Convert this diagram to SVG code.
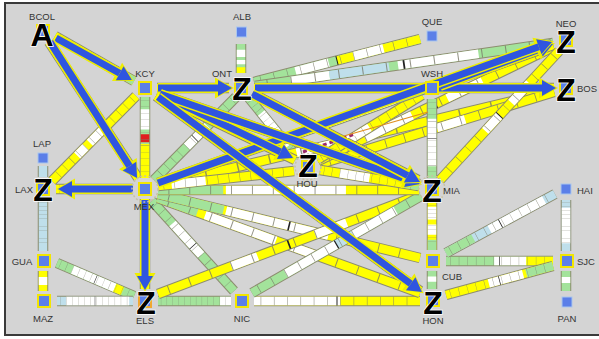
<svg xmlns="http://www.w3.org/2000/svg" xmlns:xlink="http://www.w3.org/1999/xlink" width="599" height="339" viewBox="0 0 599 339">
<style>
.o{stroke:#8c8c6e;stroke-width:10.5;fill:none}
.Y{stroke:#ffff00;stroke-width:8.5}
.G{stroke:#a3e39b;stroke-width:8.5}
.W{stroke:#ffffff;stroke-width:8.5}
.L{stroke:#bfdfeb;stroke-width:8.5}
.R{stroke:#e02020;stroke-width:8.5}
.t{stroke:#7a7a6a;stroke-width:8.5;stroke-dasharray:0.35 7.65;stroke-dashoffset:-4;opacity:.8}
.m{stroke:#222;stroke-width:9;stroke-dasharray:0 49.7 0.6 100}
.ay{stroke:#eeee00;stroke-width:10;marker-end:url(#hy)}
.ab{stroke:#2f55e0;stroke-width:7;marker-end:url(#hb)}
.ns{fill:#5b7fe8;stroke:#f2e600;stroke-width:2}
.nl{fill:#5b7fe8;stroke:#a9c6ee;stroke-width:1}
.lb{font-family:"Liberation Sans",Arial,sans-serif;font-size:9.5px;fill:#333}
.c{text-anchor:middle}
.big{font-family:"Liberation Sans",Arial,sans-serif;font-weight:bold;font-size:32px;fill:#000;stroke:#fff;stroke-width:1.5;paint-order:stroke;text-anchor:middle}
.ring{fill:none;stroke:#c9c2a2;stroke-width:1.5;stroke-dasharray:2 2}
</style>
<defs>
<marker id="hb" markerUnits="userSpaceOnUse" markerWidth="20" markerHeight="20" refX="2" refY="10" orient="auto" overflow="visible"><path d="M2,2 L16,10 L2,18 z" fill="#2f55e0"/></marker>
<marker id="hy" markerUnits="userSpaceOnUse" markerWidth="24" markerHeight="24" refX="3" refY="12" orient="auto" overflow="visible"><path d="M0,1.5 L19,12 L0,22.5 z" fill="#eeee00"/></marker>
<line id="b1" x1="55" y1="36" x2="134" y2="81" pathLength="100"/>
<line id="b2" x1="49" y1="42" x2="138" y2="178" pathLength="100"/>
<line id="b3" x1="136" y1="96" x2="52" y2="181" pathLength="100"/>
<line id="b4" x1="145" y1="97" x2="145" y2="178" pathLength="100"/>
<line id="b5" x1="157" y1="88" x2="229" y2="88" pathLength="100"/>
<line id="b6" x1="157" y1="94" x2="295" y2="160" pathLength="100"/>
<line id="b7" x1="157" y1="93" x2="419" y2="184" pathLength="100"/>
<line id="b8" x1="156" y1="96" x2="420" y2="291" pathLength="100"/>
<line id="b9" x1="241" y1="44" x2="241" y2="73" pathLength="100"/>
<line id="b10" x1="254" y1="82" x2="420" y2="39" pathLength="100"/>
<line id="b11" x1="255" y1="86" x2="553" y2="43" pathLength="100"/>
<line id="b12" x1="254" y1="88" x2="554" y2="88" pathLength="100"/>
<line id="b13" x1="236" y1="97" x2="154" y2="180" pathLength="100"/>
<line id="b14" x1="249" y1="98" x2="298" y2="158" pathLength="100"/>
<line id="b15" x1="253" y1="94" x2="418" y2="180" pathLength="100"/>
<line id="b16" x1="444" y1="84" x2="553" y2="45" pathLength="100"/>
<line id="b17" x1="432" y1="99" x2="432" y2="178" pathLength="100"/>
<line id="b18" x1="559" y1="51" x2="440" y2="180" pathLength="100"/>
<line id="b19" x1="318" y1="161" x2="553" y2="47" pathLength="100"/>
<line id="b20" x1="158" y1="186" x2="554" y2="91" pathLength="100"/>
<line id="b21" x1="320" y1="164" x2="554" y2="92" pathLength="100"/>
<line id="b22" x1="317" y1="160" x2="422" y2="95" pathLength="100"/>
<line id="b23" x1="158" y1="183" x2="552" y2="44" pathLength="100"/>
<line id="b24" x1="43" y1="166" x2="43" y2="177" pathLength="100"/>
<line id="b25" x1="56" y1="189" x2="133" y2="189" pathLength="100"/>
<line id="b26" x1="43" y1="200" x2="43" y2="251" pathLength="100"/>
<line id="b27" x1="43" y1="271" x2="43" y2="291" pathLength="100"/>
<line id="b28" x1="57" y1="263" x2="134" y2="296" pathLength="100"/>
<line id="b29" x1="57" y1="301" x2="133" y2="301" pathLength="100"/>
<line id="b30" x1="145" y1="199" x2="145" y2="289" pathLength="100"/>
<line id="b31" x1="158" y1="301" x2="231" y2="301" pathLength="100"/>
<line id="b32" x1="254" y1="301" x2="420" y2="301" pathLength="100"/>
<line id="b33" x1="152" y1="201" x2="234" y2="291" pathLength="100"/>
<line id="b34" x1="158" y1="198" x2="420" y2="293" pathLength="100"/>
<line id="b35" x1="158" y1="194" x2="420" y2="258" pathLength="100"/>
<line id="b36" x1="158" y1="190" x2="419" y2="190" pathLength="100"/>
<line id="b37" x1="158" y1="186" x2="294" y2="171" pathLength="100"/>
<line id="b38" x1="158" y1="294" x2="420" y2="195" pathLength="100"/>
<line id="b39" x1="252" y1="293" x2="421" y2="196" pathLength="100"/>
<line id="b40" x1="320" y1="170" x2="419" y2="186" pathLength="100"/>
<line id="b41" x1="432" y1="199" x2="432" y2="250" pathLength="100"/>
<line id="b42" x1="432" y1="271" x2="432" y2="289" pathLength="100"/>
<line id="b43" x1="446" y1="261" x2="553" y2="261" pathLength="100"/>
<line id="b44" x1="446" y1="253" x2="555" y2="194" pathLength="100"/>
<line id="b45" x1="446" y1="295" x2="553" y2="266" pathLength="100"/>
<line id="b46" x1="566" y1="200" x2="566" y2="251" pathLength="100"/>
<line id="b47" x1="566" y1="271" x2="566" y2="291" pathLength="100"/>
</defs>
<rect x="0" y="0" width="599" height="339" fill="#ffffff"/>
<rect x="5" y="3" width="597" height="332" fill="#d4d4d4" stroke="#3a3a3a" stroke-width="2"/>
<g id="connectors">
<g id="bars">
<g><use href="#b2" class="o"/><use href="#b2" class="Y"/><use href="#b2" class="t"/></g>
<g><use href="#b1" class="o"/><use href="#b1" class="Y"/><use href="#b1" class="G" stroke-dasharray="0 88 12 100"/><use href="#b1" class="t"/></g>
<g><use href="#b3" class="o"/><use href="#b3" class="Y"/><use href="#b3" class="W" stroke-dasharray="0 35 20 100"/><use href="#b3" class="W" stroke-dasharray="0 60 10 100"/><use href="#b3" class="t"/></g>
<g><use href="#b4" class="o"/><use href="#b4" class="G"/><use href="#b4" class="W" stroke-dasharray="0 15 25 100"/><use href="#b4" class="R" stroke-dasharray="0 46 10 100"/><use href="#b4" class="Y" stroke-dasharray="0 58 42 100"/><use href="#b4" class="t"/></g>
<g><use href="#b5" class="o"/><use href="#b5" class="Y"/></g>
<g><use href="#b9" class="o"/><use href="#b9" class="G"/><use href="#b9" class="W" stroke-dasharray="0 20 25 100"/><use href="#b9" class="W" stroke-dasharray="0 55 15 100"/><use href="#b9" class="Y" stroke-dasharray="0 80 20 100"/></g>
<g><use href="#b10" class="o"/><use href="#b10" class="G"/><use href="#b10" class="W" stroke-dasharray="0 25 20 100"/><use href="#b10" class="Y" stroke-dasharray="0 50 50 100"/><use href="#b10" class="W" stroke-dasharray="0 60 18 100"/><use href="#b10" class="t"/><use href="#b10" class="m"/></g>
<g><use href="#b11" class="o"/><use href="#b11" class="G"/><use href="#b11" class="W" stroke-dasharray="0 12 13 100"/><use href="#b11" class="L" stroke-dasharray="0 25 20 100"/><use href="#b11" class="W" stroke-dasharray="0 48 27 100"/><use href="#b11" class="t"/><use href="#b11" class="m"/></g>
<g><use href="#b12" class="o"/><use href="#b12" class="Y"/><use href="#b12" class="t"/></g>
<g><use href="#b13" class="o"/><use href="#b13" class="G"/><use href="#b13" class="W" stroke-dasharray="0 35 25 100"/><use href="#b13" class="t"/><use href="#b13" class="m"/></g>
<g><use href="#b14" class="o"/><use href="#b14" class="G"/><use href="#b14" class="W" stroke-dasharray="0 25 55 100"/><use href="#b14" class="t"/></g>
<g><use href="#b20" class="o"/><use href="#b20" class="Y"/><use href="#b20" class="W" stroke-dasharray="0 35 20 100"/><use href="#b20" class="t"/><use href="#b20" class="m"/></g>
<g><use href="#b21" class="o"/><use href="#b21" class="Y"/><use href="#b21" class="W" stroke-dasharray="0 50 12 100"/><use href="#b21" class="t"/></g>
<g><use href="#b19" class="o"/><use href="#b19" class="Y"/><use href="#b19" class="W" stroke-dasharray="0 20 20 100"/><use href="#b19" class="W" stroke-dasharray="0 55 15 100"/><use href="#b19" class="t"/><use href="#b19" class="m"/></g>
<g><use href="#b22" class="o"/><use href="#b22" class="Y"/><use href="#b22" class="W" stroke-dasharray="0 30 20 100"/><use href="#b22" class="t"/></g>
<g><use href="#b15" class="o"/><use href="#b15" class="Y"/><use href="#b15" class="W" stroke-dasharray="0 20 25 100"/><use href="#b15" class="W" stroke-dasharray="0 60 15 100"/><use href="#b15" class="t"/></g>
<g><use href="#b23" class="o"/><use href="#b23" class="G"/><use href="#b23" class="W" stroke-dasharray="0 30 30 100"/><use href="#b23" class="t"/></g>
<g><use href="#b16" class="o"/><use href="#b16" class="Y"/><use href="#b16" class="W" stroke-dasharray="0 30 30 100"/></g>
<g><use href="#b17" class="o"/><use href="#b17" class="G"/><use href="#b17" class="W" stroke-dasharray="0 25 60 100"/><use href="#b17" class="t"/><use href="#b17" class="m"/></g>
<g><use href="#b18" class="o"/><use href="#b18" class="Y"/><use href="#b18" class="W" stroke-dasharray="0 25 15 100"/><use href="#b18" class="W" stroke-dasharray="0 50 12 100"/><use href="#b18" class="t"/><use href="#b18" class="m"/></g>
<g><use href="#b6" class="o"/><use href="#b6" class="Y"/></g>
<g><use href="#b7" class="o"/><use href="#b7" class="Y"/><use href="#b7" class="W" stroke-dasharray="0 40 20 100"/></g>
<g><use href="#b8" class="o"/><use href="#b8" class="Y"/><use href="#b8" class="W" stroke-dasharray="0 50 20 100"/></g>
<g><use href="#b24" class="o"/><use href="#b24" class="L"/></g>
<g><use href="#b25" class="o"/><use href="#b25" class="Y"/><use href="#b25" class="t"/></g>
<g><use href="#b26" class="o"/><use href="#b26" class="L"/><use href="#b26" class="t"/></g>
<g><use href="#b27" class="o"/><use href="#b27" class="Y"/><use href="#b27" class="W" stroke-dasharray="0 30 40 100"/></g>
<g><use href="#b28" class="o"/><use href="#b28" class="G"/><use href="#b28" class="W" stroke-dasharray="0 20 55 100"/><use href="#b28" class="Y" stroke-dasharray="0 75 10 100"/><use href="#b28" class="t"/><use href="#b28" class="m"/></g>
<g><use href="#b29" class="o"/><use href="#b29" class="L"/><use href="#b29" class="W" stroke-dasharray="0 12 83 100"/><use href="#b29" class="t"/><use href="#b29" class="m"/></g>
<g><use href="#b30" class="o"/><use href="#b30" class="Y"/><use href="#b30" class="R" stroke-dasharray="0 40 7 100"/></g>
<g><use href="#b31" class="o"/><use href="#b31" class="G"/><use href="#b31" class="W" stroke-dasharray="0 85 15 100"/><use href="#b31" class="t"/></g>
<g><use href="#b32" class="o"/><use href="#b32" class="Y"/><use href="#b32" class="W" stroke-dasharray="0 0 52 100"/><use href="#b32" class="t"/><use href="#b32" class="m"/></g>
<g><use href="#b33" class="o"/><use href="#b33" class="G"/><use href="#b33" class="W" stroke-dasharray="0 25 35 100"/><use href="#b33" class="t"/><use href="#b33" class="m"/></g>
<g><use href="#b34" class="o"/><use href="#b34" class="Y"/><use href="#b34" class="G" stroke-dasharray="15 100"/><use href="#b34" class="W" stroke-dasharray="0 18 27 100"/><use href="#b34" class="W" stroke-dasharray="0 50 10 100"/><use href="#b34" class="t"/><use href="#b34" class="m"/></g>
<g><use href="#b35" class="o"/><use href="#b35" class="Y"/><use href="#b35" class="G" stroke-dasharray="25 100"/><use href="#b35" class="W" stroke-dasharray="0 26 39 100"/><use href="#b35" class="t"/><use href="#b35" class="m"/></g>
<g><use href="#b38" class="o"/><use href="#b38" class="Y"/><use href="#b38" class="W" stroke-dasharray="0 28 10 100"/><use href="#b38" class="W" stroke-dasharray="0 60 12 100"/><use href="#b38" class="t"/><use href="#b38" class="m"/></g>
<g><use href="#b39" class="o"/><use href="#b39" class="G"/><use href="#b39" class="W" stroke-dasharray="0 20 30 100"/><use href="#b39" class="L" stroke-dasharray="0 50 10 100"/><use href="#b39" class="W" stroke-dasharray="0 60 25 100"/><use href="#b39" class="t"/><use href="#b39" class="m"/></g>
<g><use href="#b36" class="o"/><use href="#b36" class="Y"/><use href="#b36" class="G" stroke-dasharray="25 100"/><use href="#b36" class="W" stroke-dasharray="0 26 46 100"/><use href="#b36" class="t"/></g>
<g><use href="#b37" class="o"/><use href="#b37" class="Y"/><use href="#b37" class="W" stroke-dasharray="0 10 25 100"/><use href="#b37" class="t"/></g>
<g><use href="#b40" class="o"/><use href="#b40" class="Y"/><use href="#b40" class="W" stroke-dasharray="0 20 30 100"/><use href="#b40" class="G" stroke-dasharray="0 85 15 100"/><use href="#b40" class="t"/></g>
<g><use href="#b41" class="o"/><use href="#b41" class="Y"/><use href="#b41" class="W" stroke-dasharray="0 15 25 100"/><use href="#b41" class="W" stroke-dasharray="0 50 20 100"/><use href="#b41" class="G" stroke-dasharray="0 80 20 100"/><use href="#b41" class="t"/></g>
<g><use href="#b42" class="o"/><use href="#b42" class="G"/><use href="#b42" class="W" stroke-dasharray="0 30 30 100"/></g>
<g><use href="#b43" class="o"/><use href="#b43" class="G"/><use href="#b43" class="W" stroke-dasharray="0 45 30 100"/><use href="#b43" class="Y" stroke-dasharray="0 75 25 100"/><use href="#b43" class="t"/><use href="#b43" class="m"/></g>
<g><use href="#b44" class="o"/><use href="#b44" class="L"/><use href="#b44" class="G" stroke-dasharray="25 100"/><use href="#b44" class="W" stroke-dasharray="0 40 50 100"/><use href="#b44" class="t"/><use href="#b44" class="m"/></g>
<g><use href="#b45" class="o"/><use href="#b45" class="Y"/><use href="#b45" class="W" stroke-dasharray="0 40 32 100"/><use href="#b45" class="G" stroke-dasharray="0 75 25 100"/><use href="#b45" class="t"/><use href="#b45" class="m"/></g>
<g><use href="#b46" class="o"/><use href="#b46" class="L"/><use href="#b46" class="W" stroke-dasharray="0 15 70 100"/><use href="#b46" class="t"/></g>
<g><use href="#b47" class="o"/><use href="#b47" class="G"/><use href="#b47" class="W" stroke-dasharray="0 30 30 100"/></g>
<line x1="303" y1="152" x2="355" y2="134" stroke="#ffffff" stroke-width="3"/>
<line x1="303" y1="152" x2="355" y2="134" stroke="#9a2a6a" stroke-width="3" stroke-dasharray="4 3"/>
<line x1="330" y1="140" x2="428" y2="112" stroke="#e09020" stroke-width="1.2"/>
</g>
<g id="arrows">
<line class="ay" x1="56" y1="38" x2="119.7" y2="73.3"/><line class="ab" x1="56" y1="38" x2="119.7" y2="73.3"/>
<line class="ay" x1="50" y1="42" x2="129.5" y2="166.1"/><line class="ab" x1="50" y1="42" x2="129.5" y2="166.1"/>
<line class="ay" x1="158" y1="88" x2="218" y2="88"/><line class="ab" x1="158" y1="88" x2="218" y2="88"/>
<line class="ay" x1="255" y1="88" x2="542" y2="88"/><line class="ab" x1="255" y1="88" x2="542" y2="88"/>
<line class="ay" x1="440" y1="86" x2="539.9" y2="48.9"/><line class="ab" x1="440" y1="86" x2="539.9" y2="48.9"/>
<line class="ay" x1="158" y1="183" x2="538.8" y2="46.7"/><line class="ab" x1="158" y1="183" x2="538.8" y2="46.7"/>
<line class="ay" x1="160" y1="94" x2="280.4" y2="151.9"/><line class="ab" x1="160" y1="94" x2="280.4" y2="151.9"/>
<line class="ay" x1="160" y1="94" x2="406.8" y2="179.4"/><line class="ab" x1="160" y1="94" x2="406.8" y2="179.4"/>
<line class="ay" x1="252" y1="94" x2="407.6" y2="175.5"/><line class="ab" x1="252" y1="94" x2="407.6" y2="175.5"/>
<line class="ay" x1="158" y1="97" x2="410.7" y2="283.7"/><line class="ab" x1="158" y1="97" x2="410.7" y2="283.7"/>
<line class="ay" x1="133" y1="189" x2="72" y2="189"/><line class="ab" x1="133" y1="189" x2="72" y2="189"/>
<line class="ay" x1="145" y1="200" x2="145" y2="276"/><line class="ab" x1="145" y1="200" x2="145" y2="276"/>
</g>
</g>
<g id="nodes">
<g id="n-BCOL"><rect class="ns" x="37" y="25" width="12" height="12"/><text class="lb c" x="42" y="20">BCOL</text><text class="big" x="42" y="46" font-size="34">A</text></g>
<g id="n-KCY"><rect class="ns" x="139" y="82" width="12" height="12"/><text class="lb c" x="145" y="77">KCY</text></g>
<g id="n-ALB"><rect class="nl" x="236.5" y="27" width="10" height="10"/><text class="lb c" x="242" y="20">ALB</text></g>
<g id="n-ONT"><rect class="ns" x="235" y="82" width="12" height="12"/><text class="lb c" x="222" y="77">ONT</text><text class="big" x="242" y="100">Z</text></g>
<g id="n-QUE"><rect class="nl" x="427" y="31" width="10" height="10"/><text class="lb c" x="432" y="25">QUE</text></g>
<g id="n-NEO"><rect class="ns" x="560" y="34" width="12" height="12"/><text class="lb c" x="566" y="27">NEO</text><text class="big" x="566" y="53">Z</text></g>
<g id="n-WSH"><rect class="ns" x="426" y="82" width="12" height="12"/><text class="lb c" x="432" y="77">WSH</text></g>
<g id="n-BOS"><rect class="ns" x="560" y="82" width="12" height="12"/><text class="lb" x="577" y="92">BOS</text><text class="big" x="566" y="101">Z</text></g>
<g id="n-LAP"><rect class="nl" x="38" y="153" width="10" height="10"/><text class="lb c" x="42" y="147">LAP</text></g>
<g id="n-LAX"><rect class="ns" x="37" y="183" width="12" height="12"/><text class="lb c" x="24" y="193">LAX</text><text class="big" x="43" y="201">Z</text></g>
<g id="n-MEX"><circle class="ring" cx="145" cy="189" r="13"/><rect class="ns" x="139" y="183" width="12" height="12"/><text class="lb c" x="144" y="210">MEX</text></g>
<g id="n-HOU"><circle class="ring" cx="308" cy="167" r="13"/><rect class="ns" x="302" y="161" width="12" height="12"/><text class="big" x="308" y="177">Z</text><text class="lb c" x="307" y="187">HOU</text></g>
<g id="n-MIA"><circle class="ring" cx="432" cy="189" r="13"/><rect class="ns" x="426" y="183" width="12" height="12"/><text class="lb" x="443" y="194">MIA</text><text class="big" x="432" y="202">Z</text></g>
<g id="n-HAI"><rect class="nl" x="561" y="184" width="10" height="10"/><text class="lb" x="577" y="194">HAI</text></g>
<g id="n-GUA"><rect class="ns" x="38" y="255" width="12" height="12"/><text class="lb c" x="22" y="265">GUA</text></g>
<g id="n-MAZ"><rect class="ns" x="38" y="295" width="12" height="12"/><text class="lb c" x="43" y="322">MAZ</text></g>
<g id="n-ELS"><rect class="ns" x="139" y="295" width="12" height="12" style="stroke:#f0a830"/><text class="big" x="146" y="314">Z</text><text class="lb c" x="145" y="324">ELS</text></g>
<g id="n-NIC"><rect class="ns" x="236" y="295" width="12" height="12"/><text class="lb c" x="242" y="322">NIC</text></g>
<g id="n-CUB"><rect class="ns" x="427" y="255" width="12" height="12"/><text class="lb" x="442" y="280">CUB</text></g>
<g id="n-SJC"><rect class="ns" x="561" y="255" width="12" height="12"/><text class="lb" x="577" y="265">SJC</text></g>
<g id="n-HON"><rect class="ns" x="427" y="294" width="12" height="12"/><text class="big" x="433" y="314">Z</text><text class="lb c" x="433" y="324">HON</text></g>
<g id="n-PAN"><rect class="nl" x="562" y="297" width="10" height="10"/><text class="lb c" x="567" y="322">PAN</text></g>
</g>
</svg>
